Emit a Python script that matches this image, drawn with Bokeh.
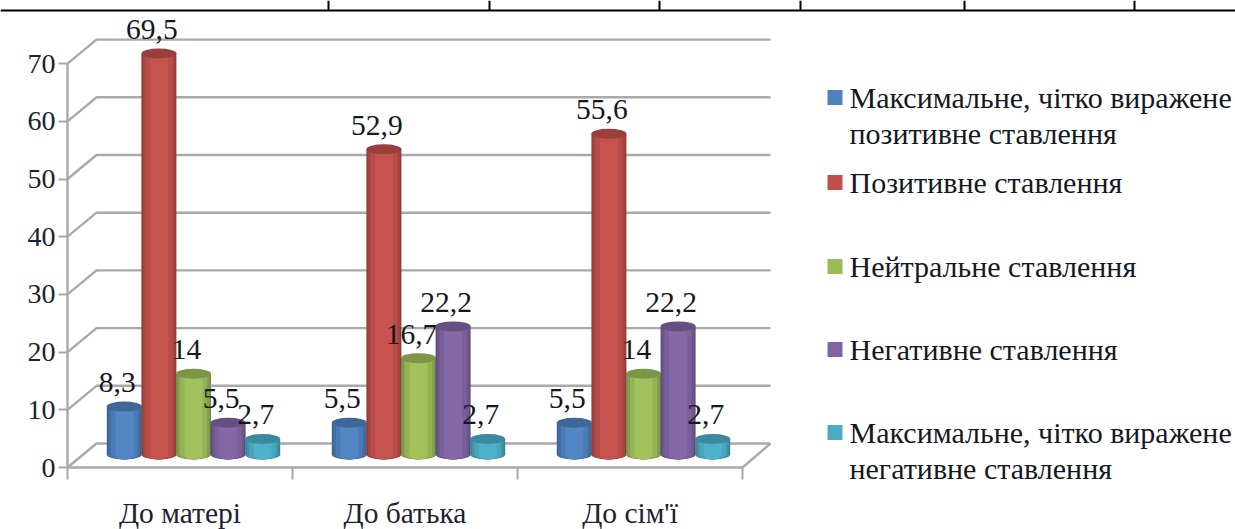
from bokeh.plotting import figure
from bokeh.models import Range1d, LinearAxis, FixedTicker
from bokeh.core.properties import value
from bokeh.embed import file_html
from bokeh.resources import INLINE

categories = ["До матері", "До батька", "До сім'ї"]
series_names = [
    "Максимальне, чітко виражене\nпозитивне ставлення",
    "Позитивне ставлення",
    "Нейтральне ставлення",
    "Негативне ставлення",
    "Максимальне, чітко виражене\nнегативне ставлення",
]
max_positive = [8.3, 5.5, 5.5]
positive = [69.5, 52.9, 55.6]
neutral = [14, 16.7, 14]
negative = [5.5, 22.2, 22.2]
max_negative = [2.7, 2.7, 2.7]
series_values = [max_positive, positive, neutral, negative, max_negative]
colors = ["#4f81bd", "#c0504d", "#9bbb59", "#8064a2", "#4bacc6"]
y_ticks = [0, 10, 20, 30, 40, 50, 60, 70]

W, H = 1235, 529
OX, OY = 0, 0
ZERO_PY, PX_PER_UNIT = 467.0, 5.77
def Y(py):
    return (ZERO_PY - py) / PX_PER_UNIT

p = figure(width=W, height=H, output_backend="svg", toolbar_location=None,
           x_range=Range1d(OX, OX + W), y_range=Range1d(Y(OY + H), Y(OY)),
           x_axis_type=None, y_axis_type=None, min_border=0,
           outline_line_color=None, background_fill_color="white")
p.grid.visible = False

GRID = "#a9a9a9"
LEFT, RIGHT, DEPTH_X = 67, 742, 29
DEPTH_Y = 24 / PX_PER_UNIT

# walls
for t in y_ticks:
    lx = [LEFT, LEFT + DEPTH_X, RIGHT + DEPTH_X - 1]
    ly = [t, t + DEPTH_Y, t + DEPTH_Y]
    p.line(lx, ly, line_color=GRID, line_width=2.4)
p.line([LEFT, RIGHT, RIGHT + DEPTH_X - 1], [0, 0, DEPTH_Y], line_color=GRID, line_width=2.4)

# table rule at the top of the page
p.line([OX, OX + W], [Y(10), Y(10)], line_color="black", line_width=2)
for tx in [328, 489, 659, 800, 964, 1134]:
    p.line([tx, tx], [Y(OY), Y(10)], line_color="black", line_width=2)

# axes
yax = LinearAxis(ticker=FixedTicker(ticks=y_ticks), fixed_location=LEFT, bounds=(0, 70),
                 axis_line_color=GRID, axis_line_width=2.4,
                 major_tick_line_color=GRID, major_tick_line_width=2,
                 major_tick_out=9, major_tick_in=0, minor_tick_line_color=None,
                 major_label_text_font="Liberation Serif", major_label_text_font_size="28px",
                 major_label_text_color="#1c2233", major_label_standoff=3)
p.add_layout(yax, "left")

GROUP = (RIGHT - LEFT) / len(categories)
centers = [LEFT + GROUP * (i + 0.5) for i in range(len(categories))]
edges = [LEFT + GROUP * i for i in range(len(categories) + 1)]
xax = LinearAxis(ticker=FixedTicker(ticks=centers, minor_ticks=edges), fixed_location=0,
                 axis_line_color=None, major_tick_line_color=None,
                 major_tick_out=0, major_tick_in=0,
                 minor_tick_line_color=GRID, minor_tick_line_width=2, minor_tick_out=12, minor_tick_in=0,
                 major_label_text_font="Liberation Serif", major_label_text_font_size="29.5px",
                 major_label_text_color="#1c2233", major_label_standoff=17,
                 major_label_overrides={c: l for c, l in zip(centers, categories)})
p.add_layout(xax, "below")

# cylinders
def shade(hex_color, k):
    r, g, b = (int(hex_color[i:i + 2], 16) for i in (1, 3, 5))
    return "#%02x%02x%02x" % tuple(min(255, int(c * k)) for c in (r, g, b))

BAR_W, STEP = 35, 34.6
BAR_SHIFT = 13.5
BASE = 13 / PX_PER_UNIT
CAP_H = 10 / PX_PER_UNIT
for s, vals in enumerate(series_values):
    xs = [c + BAR_SHIFT + (s - 2) * STEP for c in centers]
    tops = [v + BASE for v in vals]
    for w, k in [(35, 0.76), (32, 0.86), (27, 0.96), (18, 1.04)]:
        p.vbar(x=xs, width=w, bottom=BASE, top=tops, fill_color=shade(colors[s], k), line_color=None)
        p.ellipse(x=xs, y=[BASE] * 3, width=w, height=CAP_H, fill_color=shade(colors[s], k), line_color=None)
    p.ellipse(x=xs, y=tops, width=BAR_W, height=CAP_H, fill_color=shade(colors[s], 0.8), line_color=None)
    p.text(x=xs, y=tops, text=[str(v).replace(".", ",") for v in vals],
           text_font=value("Liberation Serif"), text_font_size="29.5px", text_color="#14181f",
           text_align="center", text_baseline="middle", x_offset=-7, y_offset=-24)

# legend
legend_py = [97, 182, 266, 349, 432]
for name, col, py in zip(series_names, colors, legend_py):
    p.rect(x=[834.5], y=[Y(py)], width=15, height=15, width_units="screen", height_units="screen",
           fill_color=col, line_color=None)
    for i, line in enumerate(name.split("\n")):
        p.text(x=[849], y=[Y(py + 36 * i)], text=[line], text_font=value("Liberation Serif"),
               text_font_size="30px", text_color="#14181f", text_align="left", text_baseline="middle")

open("out.html", "w").write(file_html(p, INLINE))
